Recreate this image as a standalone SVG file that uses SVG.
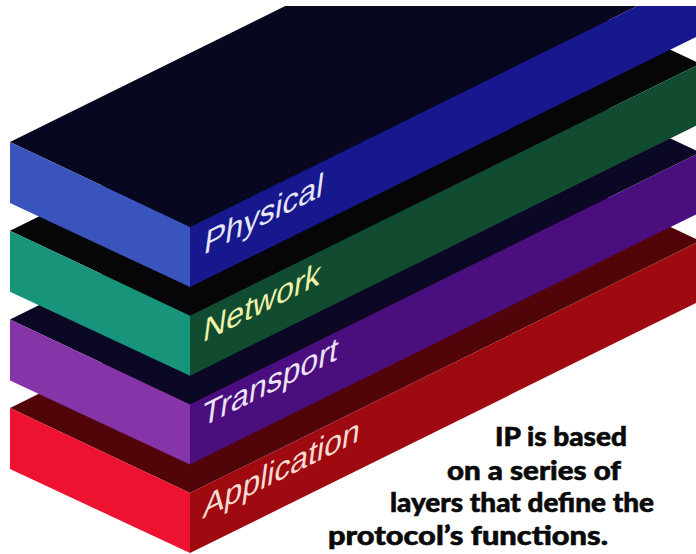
<svg xmlns="http://www.w3.org/2000/svg" width="696" height="554" viewBox="0 0 696 554">
  <style>
    .lbl { font-family: "Liberation Sans", Arial, sans-serif; font-size: 32px; }
    .cap { font-family: Lato, "Liberation Sans", sans-serif; font-weight: 900; font-size: 27px; fill: #0a0a0a; stroke: #0a0a0a; stroke-width: 0.6; }
  </style>
  <defs>
    <clipPath id="frame">
      <rect x="0" y="6" width="696" height="548"/>
    </clipPath>
    <!-- one slab: top face, front (short) face, long side face -->
    <g id="slabTop"><polygon points="10,142 190,227 700,-25 520,-110"/></g>
    <g id="slabFront"><polygon points="10,142 190,227 190,287 10,203"/></g>
    <g id="slabSide"><polygon points="190,227 700,-25 700,35 190,287"/></g>
  </defs>
  <rect width="696" height="554" fill="#ffffff"/>

  <g clip-path="url(#frame)">
    <!-- bottom slab first so upper slabs overlap it -->
    <g id="application" transform="translate(0,266)">
      <use href="#slabTop" fill="#520509"/>
      <use href="#slabFront" fill="#ec1230"/>
      <use href="#slabSide" fill="#9e0a10"/>
      <text class="lbl" fill="#f4dcd2" transform="translate(202,253) skewY(-26.5) skewX(-8)">Application</text>
    </g>
    <g id="transport" transform="translate(0,177.4)">
      <use href="#slabTop" fill="#0b0826"/>
      <use href="#slabFront" fill="#8535a8"/>
      <use href="#slabSide" fill="#4a0e7e"/>
      <text class="lbl" fill="#ece4f4" transform="translate(201,250) skewY(-26.5) skewX(-8)">Transport</text>
    </g>
    <g id="network" transform="translate(0,88.7)">
      <use href="#slabTop" fill="#060608"/>
      <use href="#slabFront" fill="#179479"/>
      <use href="#slabSide" fill="#114c30"/>
      <text class="lbl" fill="#eef2a8" transform="translate(202,254) skewY(-26.5) skewX(-8)">Network</text>
    </g>
    <g id="physical">
      <use href="#slabTop" fill="#07071f"/>
      <use href="#slabFront" fill="#3a54bd"/>
      <use href="#slabSide" fill="#17178e"/>
      <text class="lbl" fill="#e6e6f5" transform="translate(203,255) skewY(-26.5) skewX(-8)">Physical</text>
    </g>
  </g>

  <g id="caption">
    <text class="cap" x="495" y="446" textLength="132" lengthAdjust="spacingAndGlyphs">IP is based</text>
    <text class="cap" x="447" y="480" textLength="174" lengthAdjust="spacingAndGlyphs">on a series of</text>
    <text class="cap" x="390" y="512" textLength="264" lengthAdjust="spacingAndGlyphs">layers that define the</text>
    <text class="cap" x="328" y="545" textLength="280" lengthAdjust="spacingAndGlyphs">protocol’s functions.</text>
  </g>
</svg>
